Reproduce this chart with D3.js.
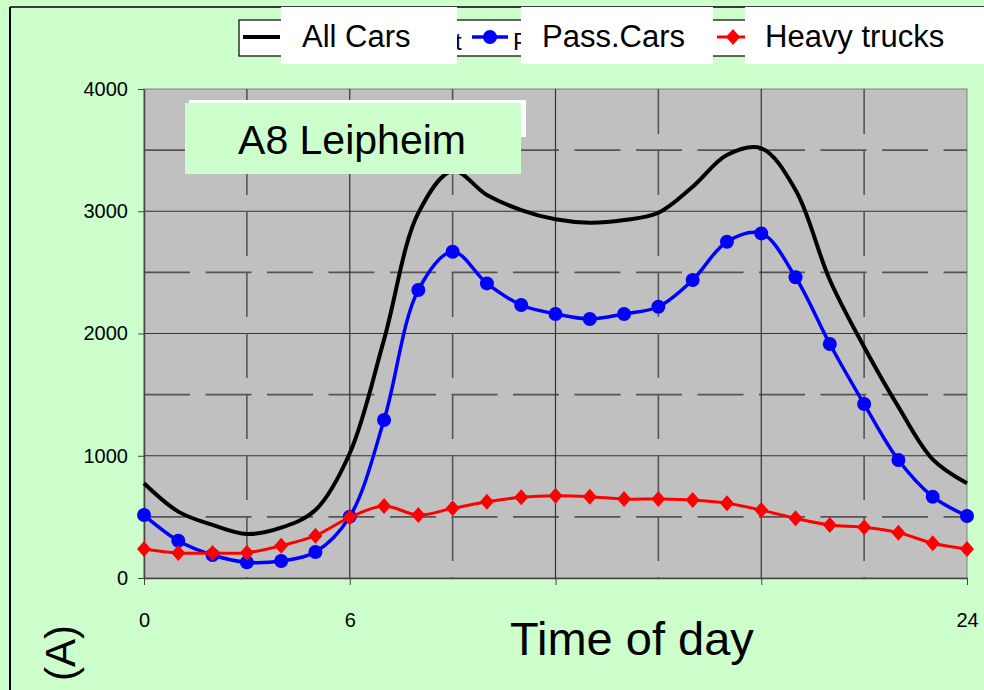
<!DOCTYPE html>
<html>
<head>
<meta charset="utf-8">
<script src="https://cdn.jsdelivr.net/npm/d3@7"></script>
<style>
  body { margin: 0; background: #ccffcc; overflow: hidden; }
  text { font-family: 'Liberation Sans', Arial, sans-serif; }
</style>
</head>
<body>
<script>
let width = 984
let height = 690

// hours of the day
let hours = [0, 1, 2, 3, 4, 5, 6, 7, 8, 9, 10, 11, 12, 13, 14, 15, 16, 17, 18, 19, 20, 21, 22, 23, 24]
let allCars = [775, 543, 434, 360, 412, 556, 1020, 1950, 2986, 3330, 3133, 3010, 2934, 2906, 2928, 2988, 3201, 3460, 3515, 3174, 2438, 1890, 1400, 971, 775]
let passCars = [515, 305, 188, 128, 139, 213, 502, 1292, 2356, 2669, 2410, 2233, 2160, 2119, 2160, 2219, 2438, 2751, 2819, 2460, 1914, 1423, 965, 665, 507]
let heavyTrucks = [237, 204, 204, 207, 264, 346, 496, 589, 515, 570, 624, 660, 673, 665, 646, 646, 638, 611, 556, 488, 434, 415, 371, 284, 237]

let yTicks = [0, 1000, 2000, 3000, 4000]
let xTicks = [0, 6, 12, 18, 24]
let xLabels = ['0', '6', '', '', '24']
let gridSolidY = [1000, 2000, 3000]
let gridDashY = [500, 1500, 2500, 3500]
let gridSolidX = [6, 12, 18]
let gridDashX = [3, 9, 15, 21]
let seriesNames = ['All Cars', 'Pass.Cars', 'Heavy trucks']

let scaleX = d3.scaleLinear().domain([0, 24]).range([144, 967])
let scaleY = d3.scaleLinear().domain([0, 4000]).range([578, 89])

let svg = d3.select('body')
  .append('svg')
  .attr('width', width)
  .attr('height', height)

svg.append('rect')
  .attr('width', width).attr('height', height)
  .attr('fill', '#ccffcc')

// slide frame
svg.append('line').attr('x1', 10).attr('x2', 10).attr('y1', 7).attr('y2', height)
  .attr('stroke', '#000').attr('stroke-width', 2)
svg.append('line').attr('x1', 10).attr('x2', width).attr('y1', 7).attr('y2', 7)
  .attr('stroke', '#000').attr('stroke-width', 1.5)

// plot area
svg.append('rect')
  .attr('x', scaleX(0)).attr('y', scaleY(4000))
  .attr('width', scaleX(24) - scaleX(0))
  .attr('height', scaleY(0) - scaleY(4000))
  .attr('fill', '#c0c0c0')
  .attr('stroke', '#808080')

let grid = svg.append('g')
grid.selectAll('.gsy').data(gridSolidY).enter().append('line')
  .attr('x1', scaleX(0)).attr('x2', scaleX(24))
  .attr('y1', d => scaleY(d)).attr('y2', d => scaleY(d))
  .attr('stroke', '#333').attr('stroke-width', 1.2)
grid.selectAll('.gdy').data(gridDashY).enter().append('line')
  .attr('x1', scaleX(0)).attr('x2', scaleX(24))
  .attr('y1', d => scaleY(d)).attr('y2', d => scaleY(d))
  .attr('stroke', '#555').attr('stroke-width', 1.6)
  .attr('stroke-dasharray', '46,15.5')
grid.selectAll('.gsx').data(gridSolidX).enter().append('line')
  .attr('y1', scaleY(4000)).attr('y2', scaleY(0))
  .attr('x1', d => scaleX(d)).attr('x2', d => scaleX(d))
  .attr('stroke', '#333').attr('stroke-width', 1.2)
grid.selectAll('.gdx').data(gridDashX).enter().append('line')
  .attr('y1', scaleY(4000)).attr('y2', scaleY(0))
  .attr('x1', d => scaleX(d)).attr('x2', d => scaleX(d))
  .attr('stroke', '#555').attr('stroke-width', 1.6)
  .attr('stroke-dasharray', '45,16')

// axes
svg.append('g')
  .attr('transform', 'translate(' + scaleX(0) + ',0)')
  .call(d3.axisLeft(scaleY).tickValues(yTicks).tickSize(6).tickPadding(10).tickSizeOuter(0)
    .tickFormat(d3.format('d')))
svg.append('g')
  .attr('transform', 'translate(0,' + scaleY(0) + ')')
  .call(d3.axisBottom(scaleX).tickValues(xTicks).tickSize(7).tickPadding(28).tickSizeOuter(0)
    .tickFormat((d, i) => xLabels[i]))
svg.selectAll('.domain').attr('stroke', '#444').attr('stroke-width', 1.5)
svg.selectAll('.tick line').attr('stroke', '#444')
svg.selectAll('.tick text')
  .attr('font-size', 20)
  .attr('font-family', 'Liberation Sans, Arial, sans-serif')
  .attr('fill', '#000')

// series
let line = d3.line()
  .x((d, i) => scaleX(hours[i]))
  .y(d => scaleY(d))
  .curve(d3.curveCatmullRom.alpha(0.5))

svg.append('path')
  .datum(allCars)
  .attr('d', line)
  .attr('fill', 'none').attr('stroke', '#000').attr('stroke-width', 4)

svg.append('path')
  .datum(passCars)
  .attr('d', line)
  .attr('fill', 'none').attr('stroke', '#0000ff').attr('stroke-width', 3.5)
svg.selectAll('.pc').data(passCars).enter().append('circle')
  .attr('cx', (d, i) => scaleX(hours[i]))
  .attr('cy', d => scaleY(d))
  .attr('r', 7)
  .attr('fill', '#0000ff')

svg.append('path')
  .datum(heavyTrucks)
  .attr('d', line)
  .attr('fill', 'none').attr('stroke', '#ff0000').attr('stroke-width', 3)
svg.selectAll('.ht').data(heavyTrucks).enter().append('path')
  .attr('transform', (d, i) => 'translate(' + scaleX(hours[i]) + ',' + scaleY(d) + ')')
  .attr('d', 'M0,-8L7,0L0,8L-7,0Z')
  .attr('fill', '#ff0000')

// title box
svg.append('rect').attr('x', 189).attr('y', 100).attr('width', 337).attr('height', 37).attr('fill', '#fff')
svg.append('rect').attr('x', 185).attr('y', 103).attr('width', 336).attr('height', 71).attr('fill', '#ccffcc')
svg.append('text').attr('x', 352).attr('y', 154)
  .attr('text-anchor', 'middle').attr('font-size', 41)
  .text('A8 Leipheim')

// legend (original labels peek out from under the white label boxes)
svg.append('rect').attr('x', 239).attr('y', 20).attr('width', 760).attr('height', 36)
  .attr('fill', '#fff').attr('stroke', '#000').attr('stroke-width', 1.2)
svg.append('clipPath').attr('id', 'pclip')
  .append('rect').attr('x', 457).attr('y', 20).attr('width', 64).attr('height', 36)
svg.append('text').attr('x', 455).attr('y', 50).attr('font-size', 24)
  .attr('clip-path', 'url(#pclip)').text('t')
svg.append('text').attr('x', 513).attr('y', 50).attr('font-size', 24)
  .attr('clip-path', 'url(#pclip)').text('P')
svg.append('line').attr('x1', 243).attr('x2', 280).attr('y1', 37).attr('y2', 37)
  .attr('stroke', '#000').attr('stroke-width', 4)
svg.append('line').attr('x1', 472).attr('x2', 508).attr('y1', 37).attr('y2', 37)
  .attr('stroke', '#0000ff').attr('stroke-width', 3.5)
svg.append('circle').attr('cx', 490).attr('cy', 37).attr('r', 7).attr('fill', '#0000ff')
svg.append('line').attr('x1', 717).attr('x2', 750).attr('y1', 37).attr('y2', 37)
  .attr('stroke', '#ff0000').attr('stroke-width', 3)
svg.append('path').attr('transform', 'translate(733,37)').attr('d', 'M0,-8L7,0L0,8L-7,0Z').attr('fill', '#ff0000')

let boxX = [281, 521, 745]
let boxW = [176, 192, 260]
svg.selectAll('.lb').data(seriesNames).enter().append('rect')
  .attr('x', (d, i) => boxX[i]).attr('y', 7)
  .attr('width', (d, i) => boxW[i]).attr('height', 57)
  .attr('fill', '#fff')
svg.selectAll('.lt').data(seriesNames).enter().append('text')
  .attr('x', (d, i) => boxX[i] + [21, 21, 20][i])
  .attr('y', 47)
  .attr('font-size', 31)
  .text(d => d)

// axis titles
svg.append('text').attr('x', 510).attr('y', 655).attr('font-size', 47).text('Time of day')
svg.append('text')
  .attr('transform', 'translate(75,625) rotate(-90)')
  .attr('text-anchor', 'end')
  .attr('font-size', 42)
  .text('Vehicles (A)')
</script>
</body>
</html>
